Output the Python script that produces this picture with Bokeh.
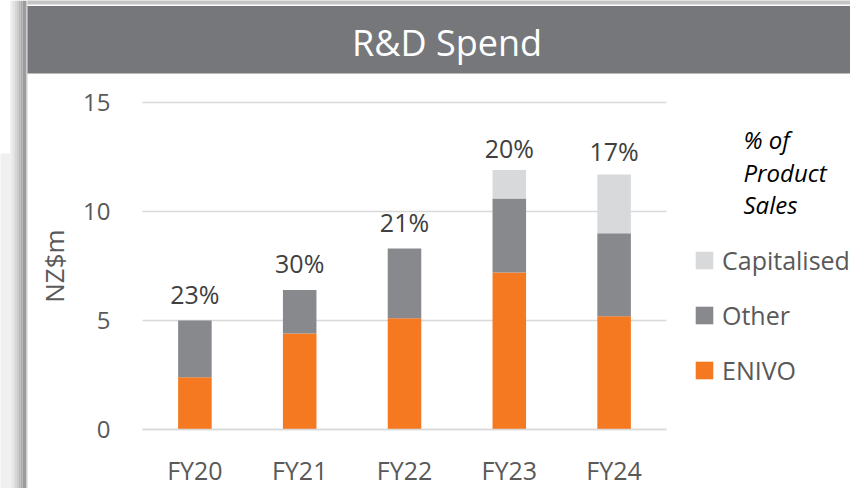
import numpy as np
from bokeh.plotting import figure
from bokeh.models import (ColumnDataSource, Range1d, Label, BoxAnnotation,
                          Legend, LegendItem, FixedTicker, LinearAxis)
from bokeh.core.properties import value
from bokeh.embed import file_html
from bokeh.resources import INLINE

# ---- data ----
years = ["FY20", "FY21", "FY22", "FY23", "FY24"]
enivo = [2.4, 4.4, 5.1, 7.2, 5.2]
other = [2.6, 2.0, 3.2, 3.4, 3.8]
capitalised = [0.0, 0.0, 0.0, 1.3, 2.7]
pct_of_sales = ["23%", "30%", "21%", "20%", "17%"]
y_ticks = [0, 5, 10, 15]
series = ["ENIVO", "Other", "Capitalised"]

# ---- styling ----
FONT = "Open Sans"
C_ENIVO, C_OTHER, C_CAP = "#f47920", "#87898d", "#d8d9db"
HEADER = "#76777b"
TXT = "#595959"
GRID = "#d9d9d9"
pct_lift_px = [27, 27, 27, 22, 23]   # gap from bar top to label centre

W, H = 850, 488
# pixel geometry of the plotting area (canvas pixels)
X0_PX, CAT_PX = 194.4, 104.8      # centre of first category, category pitch
Y0_PX, Y_PX = 429.0, 21.8         # pixel row of value 0, pixels per unit

def fx(px):
    return (px - X0_PX) / CAT_PX

def fy(py):
    return (Y0_PX - py) / Y_PX

p = figure(x_range=Range1d(fx(0), fx(W)), y_range=Range1d(fy(H), fy(0)),
           width=W, height=H, output_backend="svg", toolbar_location=None,
           x_axis_location=None, y_axis_location=None,
           min_border=0, min_border_left=0, min_border_right=0,
           min_border_top=0, min_border_bottom=0)
p.outline_line_color = None
p.background_fill_color = "white"
p.border_fill_color = "white"
p.xgrid.visible = False
p.ygrid.visible = False

# ---- decorative frame (header bar + left shadow) ----
p.add_layout(BoxAnnotation(left=fx(-20), right=fx(10), top=fy(153), bottom=fy(600),
                           fill_color="#f0f0f0", fill_alpha=1, line_color=None))
strips = [(10, 12, "#ececec"), (12, 14, "#e2e2e2"), (14, 16, "#d6d6d6"), (16, 18, "#c8c8c8"),
          (18, 20, "#b9b9b9"), (20, 22, "#aaaaaa"), (22, 26, "#9c9c9c"), (26, 27, "#d0d0d0")]
for a, b, c in strips:
    p.add_layout(BoxAnnotation(left=fx(a), right=fx(b), top=fy(0), bottom=fy(600),
                               fill_color=c, fill_alpha=1, line_color=None))
p.add_layout(BoxAnnotation(left=fx(27), right=fx(900), top=fy(-20), bottom=fy(4),
                           fill_color="#c4c4c4", fill_alpha=1, line_color=None))
p.add_layout(BoxAnnotation(left=fx(27), right=fx(900), top=fy(5.5), bottom=fy(73),
                           fill_color=HEADER, fill_alpha=1, line_color=None))
p.add_layout(Label(x=fx(446.5), y=fy(42), text="R&D Spend", text_align="center",
                   text_baseline="middle", text_color="white", text_font=FONT,
                   text_font_size="36px"))

# ---- gridlines (horizontal, spanning the category band) ----
xpos = list(range(len(years)))
n = len(years)
p.segment(x0=[-0.5] * len(y_ticks), x1=[n - 0.5] * len(y_ticks), y0=y_ticks, y1=y_ticks,
          line_color=GRID, line_width=1.5)

# ---- bars ----
tot = np.array(enivo) + np.array(other) + np.array(capitalised)
src = ColumnDataSource(dict(x=xpos, ENIVO=enivo, Other=other, Capitalised=capitalised,
                            total=tot, pct=pct_of_sales, lift=[-v for v in pct_lift_px]))
rs = p.vbar_stack(series, x="x", width=0.32, source=src,
                  color=[C_ENIVO, C_OTHER, C_CAP], line_color=None)

p.text(x="x", y="total", text="pct", source=src, y_offset="lift",
       text_align="center", text_baseline="middle", text_color="#404040",
       text_font=value(FONT), text_font_size=value("25px"))

# ---- "% of Product Sales" note ----
for txt, mid in [("% of", 139), ("Product", 171.5), ("Sales", 203.5)]:
    p.add_layout(Label(x=fx(743), y=fy(mid), text=txt, text_align="left",
                       text_baseline="middle", text_color="black", text_font=FONT,
                       text_font_size="24px", text_font_style="italic"))

# ---- legend ----
legend = Legend(items=[LegendItem(label="Capitalised", renderers=[rs[2]]),
                       LegendItem(label="Other", renderers=[rs[1]]),
                       LegendItem(label="ENIVO", renderers=[rs[0]])],
                location=(693, 101), orientation="vertical", padding=0, margin=0,
                spacing=21, glyph_width=22, glyph_height=22, label_standoff=7,
                label_text_font=FONT, label_text_font_size="25px",
                label_text_color=TXT, border_line_color=None, background_fill_alpha=0)
p.add_layout(legend)

# ---- axes ----
yaxis = LinearAxis(fixed_location=-0.5, ticker=FixedTicker(ticks=y_ticks))
yaxis.bounds = (y_ticks[0], y_ticks[-1])
yaxis.axis_line_color = None
yaxis.major_tick_line_color = None
yaxis.minor_tick_line_color = None
yaxis.major_label_standoff = 26
yaxis.major_label_text_font = FONT
yaxis.major_label_text_font_size = "24px"
yaxis.major_label_text_color = TXT
yaxis.axis_label = "NZ$m"
yaxis.axis_label_text_font = FONT
yaxis.axis_label_text_font_size = "26px"
yaxis.axis_label_text_font_style = "normal"
yaxis.axis_label_text_color = TXT
yaxis.axis_label_standoff = 8
p.add_layout(yaxis, "left")

xaxis = LinearAxis(fixed_location=0, ticker=FixedTicker(ticks=xpos),
                   major_label_overrides={i: y for i, y in enumerate(years)})
xaxis.bounds = (-0.5, n - 0.5)
xaxis.axis_line_color = GRID
xaxis.axis_line_width = 1.5
xaxis.major_tick_line_color = None
xaxis.minor_tick_line_color = None
xaxis.major_label_standoff = 17
xaxis.major_label_text_font = FONT
xaxis.major_label_text_font_size = "25px"
xaxis.major_label_text_color = TXT
p.add_layout(xaxis, "below")

open("out.html", "w").write(file_html(p, INLINE))
